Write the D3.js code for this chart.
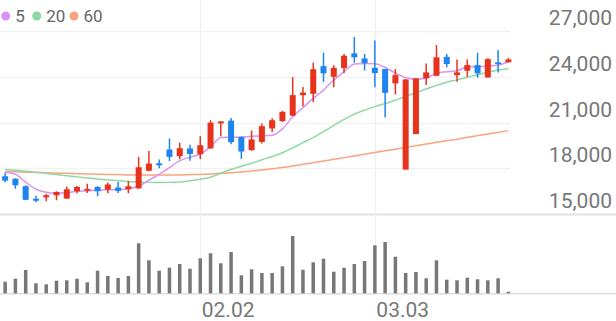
<!DOCTYPE html>
<html>
<head>
<meta charset="utf-8">
<script src="https://cdn.jsdelivr.net/npm/d3@7"></script>
<style>
  body { margin: 0; background: #fff; }
  text { font-family: Roboto, "Noto Sans", sans-serif; }
</style>
</head>
<body>
<div id="chart"></div>
<script>
const dates = ["01.06","01.07","01.08","01.11","01.12","01.13","01.14","01.15","01.18","01.19",
  "01.20","01.21","01.22","01.25","01.26","01.27","01.28","01.29","02.01","02.02",
  "02.03","02.04","02.05","02.08","02.09","02.10","02.15","02.16","02.17","02.18",
  "02.19","02.22","02.23","02.24","02.25","03.02","03.03","03.04","03.05","03.08",
  "03.09","03.10","03.11","03.12","03.15","03.16","03.17","03.18","03.19","03.22"];

const open = [17490,17330,16840,16020,16110,16250,16030,16510,16550,16790,
  16620,16750,16640,16700,17850,18340,19240,18800,19310,18930,
  19310,20950,21130,20070,19200,19740,20620,21100,21460,22800,
  22890,24700,24000,24570,25540,25200,24590,24510,23570,17930,
  20250,23900,24070,25310,24110,24400,24770,23960,24950,24950];
const close = [17200,16900,15950,15890,16250,16460,16640,16790,16660,16510,
  16950,16530,16840,18080,18320,18210,18760,19330,18950,19520,
  21000,21080,19720,19110,19900,20770,21160,21710,22800,22970,
  24500,24230,24590,25380,25280,24900,24250,22950,24110,23830,
  23900,24290,25280,24840,24290,24770,24230,25160,24840,25140];
const high = [17720,17360,16900,16210,16340,16510,16820,16850,17000,16840,
  17080,17120,17180,18760,19150,18590,19960,19690,19560,20110,
  21160,21100,21300,20100,20480,20950,21280,21770,23980,23330,
  24920,25580,24750,25490,26610,25490,26380,24510,24510,23850,
  23920,24880,26080,25490,25140,25140,25580,25210,25750,25230];
const low = [17100,16670,15920,15790,15850,15920,16020,16380,16400,16180,
  16380,16400,16380,16670,17820,18020,18480,18610,18510,18610,
  19300,20110,19590,18630,19160,19640,20380,21050,21430,22080,
  22360,23660,23310,24250,24930,24410,23310,21340,22850,17930,
  20250,23460,24050,24620,23680,24000,23940,23960,24290,24950];
const volume = [116,146,233,100,90,126,130,146,110,226,
  173,153,173,500,330,226,256,293,246,350,
  400,300,413,180,240,203,203,270,573,236,
  310,346,216,256,293,323,480,513,366,203,
  213,150,330,136,130,156,140,130,150,15];

const ma5 = [17750,17620,17100,16640,16440,16380,16410,16510,16540,16570,
  16610,16620,16670,16840,17230,17620,18050,18510,18740,18950,
  19410,20030,20050,20050,20110,20130,20170,20590,21380,21980,
  22590,23130,23790,24330,24840,24880,24860,24610,24250,23950,
  23830,23920,24250,24330,24400,24640,24660,24700,24770,24990];
const ma20 = [17940,17890,17820,17750,17680,17600,17520,17450,17380,17310,
  17250,17200,17150,17110,17090,17080,17090,17110,17200,17300,
  17430,17690,17930,18150,18340,18570,18780,19030,19350,19690,
  20020,20410,20820,21210,21560,21820,22050,22250,22480,22710,
  22970,23200,23440,23640,23800,23970,24140,24300,24440,24550];
const ma60 = [17800,17780,17760,17740,17720,17700,17680,17660,17640,17620,
  17610,17600,17580,17580,17570,17570,17580,17580,17600,17610,
  17640,17680,17720,17770,17830,17900,17980,18060,18160,18270,
  18380,18490,18600,18710,18820,18930,19050,19160,19260,19370,
  19490,19600,19710,19810,19920,20040,20150,20260,20360,20480];

const priceTicks = [15000, 18000, 21000, 24000, 27000];
const dateTicks = ["02.02", "03.03"];
const maNames = ["5", "20", "60"];

const width = 616, height = 321;
const plotRight = 510;
const upColor = "#e8331c", downColor = "#1f84ee";
const maColors = ["#d993f2", "#8dd9a1", "#f8a47c"];

const svg = d3.select("#chart")
  .append("svg")
  .attr("width", width)
  .attr("height", height);

const x = d3.scaleBand()
  .domain(dates)
  .range([0, 513.5])
  .padding(0);
const cx = d => x(d) + x.bandwidth() / 2;

const y = d3.scaleLinear()
  .domain([15000, 27000])
  .range([214.3, 31]);

const yVol = d3.scaleLinear()
  .domain([0, 600])
  .range([293.3, 233.3]);

// grid
svg.append("g")
  .selectAll("line")
  .data(priceTicks)
  .join("line")
  .attr("x1", 0)
  .attr("x2", d => d === 15000 ? width : plotRight)
  .attr("y1", d => Math.round(y(d)) + 0.5)
  .attr("y2", d => Math.round(y(d)) + 0.5)
  .attr("stroke", d => d === 15000 ? "#e3e3e3" : "#f1f1f1")
  .attr("stroke-width", d => d === 15000 ? 2 : 1.5);

svg.append("g")
  .selectAll("line")
  .data(dateTicks)
  .join("line")
  .attr("x1", d => Math.round(cx(d)) + 0.5)
  .attr("x2", d => Math.round(cx(d)) + 0.5)
  .attr("y1", 0)
  .attr("y2", 293)
  .attr("stroke", "#eeeeee")
  .attr("stroke-width", 1.2);

svg.append("line")
  .attr("x1", 0).attr("x2", width)
  .attr("y1", 293.8).attr("y2", 293.8)
  .attr("stroke", "#dcdcdc")
  .attr("stroke-width", 1.5);

// price labels
svg.append("g")
  .selectAll("text")
  .data(priceTicks)
  .join("text")
  .attr("x", 612)
  .attr("y", d => y(d) - 6)
  .attr("text-anchor", "end")
  .style("font-size", "21px")
  .attr("fill", "#777")
  .text(d => d3.format(",")(d));

// date labels
svg.append("g")
  .selectAll("text")
  .data(dateTicks)
  .join("text")
  .attr("x", d => cx(d) + 1.5)
  .attr("y", 317)
  .style("font-size", "21px")
  .attr("fill", "#777")
  .text(d => d);

// moving averages
const line = d3.line()
  .x((d, i) => cx(dates[i]))
  .y(d => y(d))
  .curve(d3.curveMonotoneX);

[ma60, ma20, ma5].forEach((s, k) => {
  svg.append("path")
    .datum(s)
    .attr("d", line)
    .attr("fill", "none")
    .attr("stroke", maColors[2 - k])
    .attr("stroke-width", 1.5);
});

// volume
svg.append("g")
  .selectAll("rect")
  .data(volume)
  .join("rect")
  .attr("x", (d, i) => cx(dates[i]) - 1.75)
  .attr("width", 3.5)
  .attr("y", d => yVol(d))
  .attr("height", d => yVol(0) - yVol(d))
  .attr("fill", "#777");

// candles
const candles = dates.map((d, i) => ({
  date: d, o: open[i], h: high[i], l: low[i], c: close[i]
}));

const g = svg.append("g");
g.selectAll("line")
  .data(candles)
  .join("line")
  .attr("x1", d => cx(d.date))
  .attr("x2", d => cx(d.date))
  .attr("y1", d => y(d.h))
  .attr("y2", d => y(d.l))
  .attr("stroke", d => d.c >= d.o ? upColor : downColor)
  .attr("stroke-width", 1.5);

g.selectAll("rect")
  .data(candles)
  .join("rect")
  .attr("x", d => cx(d.date) - 3)
  .attr("width", 6)
  .attr("y", d => y(Math.max(d.o, d.c)))
  .attr("height", d => Math.max(1.5, Math.abs(y(d.o) - y(d.c))))
  .attr("fill", d => d.c >= d.o ? upColor : downColor);

// legend
const legend = svg.append("g");
const legendX = [5.7, 36.7, 74];
maNames.forEach((name, i) => {
  legend.append("circle")
    .attr("cx", legendX[i])
    .attr("cy", 16)
    .attr("r", 4.5)
    .attr("fill", maColors[i]);
  legend.append("text")
    .attr("x", legendX[i] + 9.5)
    .attr("y", 22)
    .style("font-size", "17px")
    .attr("fill", "#666")
    .text(name);
});
</script>
</body>
</html>
